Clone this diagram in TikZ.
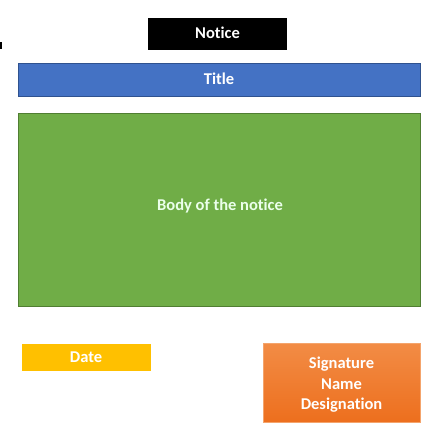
\documentclass[tikz,border=0pt]{standalone}
\usepackage{fontspec}
\setmainfont{Carlito}[Ligatures=NoCommon]
\definecolor{tblue}{HTML}{4472C4}
\definecolor{tblueb}{HTML}{2F528F}
\definecolor{bgreen}{HTML}{70AD47}
\definecolor{bgreenb}{HTML}{507E32}
\definecolor{dgold}{HTML}{FFC000}
\definecolor{otop}{HTML}{F28C45}
\definecolor{obot}{HTML}{ED6F1E}
\definecolor{oborder}{HTML}{F4A46C}
\begin{document}
\begin{tikzpicture}[x=1pt,y=-1pt,
  lbl/.style={font=\fontsize{16.5}{20.5}\selectfont\bfseries, text=white, align=center, inner sep=0pt}]
\useasboundingbox[fill=white] (0,0) rectangle (443,441);
% small mark at left edge
\fill[black] (0,42) rectangle (2,49);
% Notice
\fill[black] (148,18) rectangle (287,50);
\node[lbl] (notice) at (217.5,33) {Notice};
% Title
\draw[fill=tblue, draw=tblueb, line width=1pt] (18,64) rectangle (420,96);
\node[lbl] (title) at (219,78.5) {Title};
% Body
\draw[fill=bgreen, draw=bgreenb, line width=1pt] (18,113) rectangle (420,306);
\node[lbl, text=white!92!green] (body) at (220,206) {Body of the notice};
% Date
\fill[dgold] (22,344) rectangle (151,371);
\node[lbl] (date) at (86,357) {Date};
% Signature
\shade[top color=otop, bottom color=obot] (263,343) rectangle (420,422);
\draw[oborder, line width=0.8pt] (263,343) rectangle (420,422);
\node[lbl] (sig) at (341.5,385) {Signature\\Name\\Designation};
\end{tikzpicture}
\end{document}
